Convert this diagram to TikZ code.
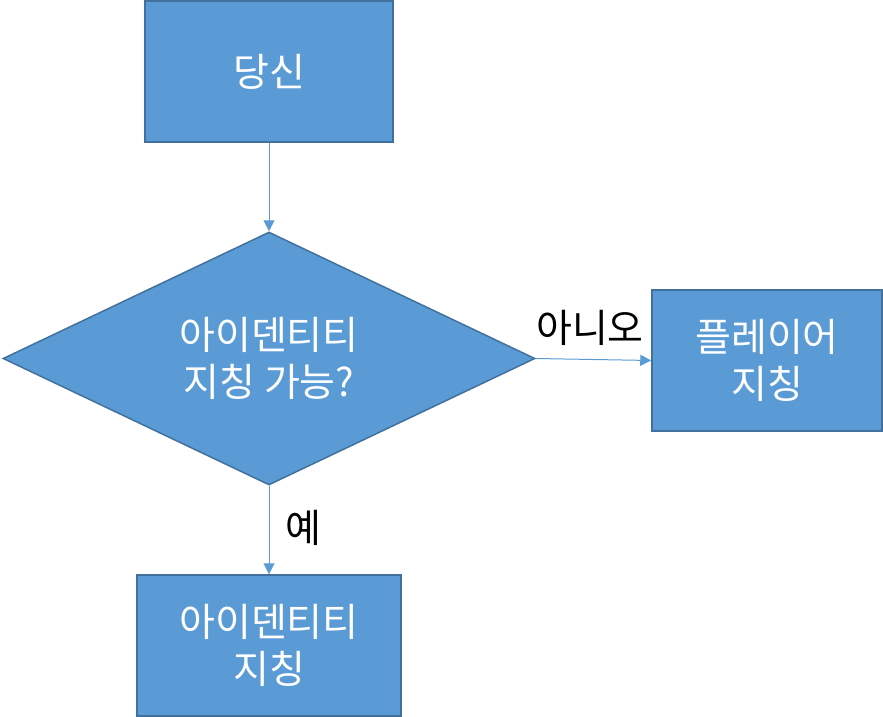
\documentclass[tikz,border=0pt]{standalone}
\usepackage{fontspec}
\setmainfont{Noto Sans CJK KR}
\usetikzlibrary{shapes.geometric,arrows.meta}
\definecolor{boxfill}{HTML}{5B9BD5}
\definecolor{boxline}{HTML}{41719C}
\tikzset{
  x=1pt,y=-1pt,
  flowbox/.style={draw=boxline,fill=boxfill,line width=1.5pt,text=white,align=center,font=\fontsize{39}{47}\selectfont,inner sep=0pt},
  decision/.style={diamond,draw=boxline,fill=boxfill,line width=1.5pt,text=white,align=center,font=\fontsize{39}{47}\selectfont,inner sep=-40pt,minimum width=532pt,minimum height=253pt},
  conn/.style={draw=boxfill,line width=1pt,-{Triangle[length=11pt,width=11pt]}},
  lbl/.style={text=black,font=\fontsize{39}{47}\selectfont,inner sep=0pt}
}
\begin{document}
\begin{tikzpicture}
\useasboundingbox (0,0) rectangle (883,717);
\node[flowbox,minimum width=248pt,minimum height=141pt] (you) at (269,71.5) {당신};
\node[decision] (q) at (269,358.5) {아이덴티티\\지칭 가능?};
\node[flowbox,minimum width=230pt,minimum height=141pt] (player) at (767,360.5) {플레이어\\지칭};
\node[flowbox,minimum width=264pt,minimum height=141pt] (ident) at (269,645.5) {아이덴티티\\지칭};
\draw[conn] (you.south) -- (q.north);
\draw[conn] (q.east) -- (player.west);
\draw[conn] (q.south) -- (ident.north);
\node[lbl] (no) at (590,328) {아니오};
\node[lbl] (yes) at (303,528) {예};
\end{tikzpicture}
\end{document}
